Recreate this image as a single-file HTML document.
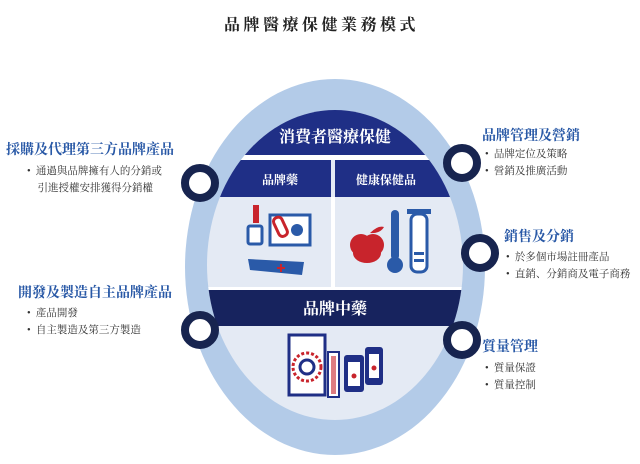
<!DOCTYPE html>
<html><head><meta charset="utf-8"><style>
body{margin:0;background:#fff;width:640px;height:464px;overflow:hidden;position:relative;font-family:"Liberation Serif","Noto Serif CJK SC","Noto Sans CJK TC",serif}
.t{position:absolute;white-space:nowrap}
.h{color:#2858a6;font-weight:bold;font-size:14px}
.b{color:#333;font-size:10.5px;line-height:17px}
</style></head><body>
<div class="t" style="left:224px;top:12px;font-size:16px;font-weight:bold;letter-spacing:3.5px;color:#222">品牌醫療保健業務模式</div>
<svg width="640" height="464" style="position:absolute;left:0;top:0">
<defs><clipPath id="c"><ellipse cx="335" cy="265" rx="128" ry="155"/></clipPath></defs>
<ellipse cx="335" cy="267" rx="150" ry="188" fill="#b3cbe8"/>
<ellipse cx="335" cy="265" rx="128" ry="155" fill="#e4eaf4"/>
<g clip-path="url(#c)">
<rect x="200" y="100" width="280" height="55" fill="#1f2f86"/>
<rect x="200" y="160" width="131" height="37" fill="#1f2f86"/>
<rect x="335" y="160" width="140" height="37" fill="#1f2f86"/>
<rect x="331" y="197" width="4" height="90" fill="#fff"/>
<rect x="200" y="155" width="280" height="5" fill="#fff"/>
<rect x="200" y="287" width="280" height="3" fill="#fff"/>
<rect x="200" y="290" width="280" height="36" fill="#17235e"/>
</g>
<text x="335" y="142" text-anchor="middle" fill="#fff" font-size="16" font-weight="bold" font-family="Liberation Serif,Noto Serif CJK SC,serif">消費者醫療保健</text>
<text x="280" y="184" text-anchor="middle" fill="#fff" font-size="12" font-weight="bold" font-family="Liberation Serif,Noto Serif CJK SC,serif">品牌藥</text>
<text x="386" y="184" text-anchor="middle" fill="#fff" font-size="12" font-weight="bold" font-family="Liberation Serif,Noto Serif CJK SC,serif">健康保健品</text>
<text x="335" y="314" text-anchor="middle" fill="#fff" font-size="16" font-weight="bold" font-family="Liberation Serif,Noto Serif CJK SC,serif">品牌中藥</text>
<rect x="253" y="205" width="6" height="18" fill="#c8242c"/>
<rect x="248" y="226" width="14" height="18" rx="2" fill="#fff" stroke="#2a5aa8" stroke-width="3"/>
<rect x="270" y="215" width="40" height="30" fill="#fff" stroke="#2a5aa8" stroke-width="3"/>
<rect x="276" y="217" width="9" height="20" rx="4" fill="#fff" stroke="#c8242c" stroke-width="3" transform="rotate(-25 280 227)"/>
<circle cx="297" cy="230" r="6" fill="#2a5aa8"/>
<path d="M248 259 L304 262 L302 275 L250 270 Z" fill="#2a5aa8"/>
<path d="M281 264v8M277 268h8" stroke="#c8242c" stroke-width="2"/>
<circle cx="361" cy="245" r="11" fill="#c8242c"/><circle cx="373" cy="245" r="11" fill="#c8242c"/>
<ellipse cx="367" cy="253" rx="14" ry="10" fill="#c8242c"/>
<path d="M370 233 q8 -8 14 -6 q-4 7 -14 6" fill="#c8242c"/>
<rect x="391" y="210" width="8" height="50" rx="4" fill="#2a5aa8"/>
<circle cx="395" cy="265" r="8" fill="#2a5aa8"/>
<rect x="407" y="209" width="24" height="5" fill="#2a5aa8"/>
<rect x="411" y="214" width="16" height="58" rx="6" fill="#fff" stroke="#2a5aa8" stroke-width="3"/>
<rect x="414" y="252" width="10" height="3" fill="#2a5aa8"/><rect x="414" y="259" width="10" height="3" fill="#2a5aa8"/>
<rect x="289" y="335" width="36" height="60" fill="#fff" stroke="#1f2f86" stroke-width="3"/>
<circle cx="307" cy="367" r="14" fill="none" stroke="#c8242c" stroke-width="3" stroke-dasharray="3 2"/>
<circle cx="307" cy="367" r="7" fill="none" stroke="#1f2f86" stroke-width="3"/>
<rect x="328" y="352" width="11" height="45" fill="#fff" stroke="#1f2f86" stroke-width="2"/>
<rect x="331" y="356" width="5" height="38" fill="#c8242c" opacity=".6"/>
<rect x="344" y="355" width="20" height="37" rx="3" fill="#1f2f86"/>
<rect x="348" y="362" width="12" height="24" fill="#fff"/>
<rect x="365" y="347" width="18" height="38" rx="3" fill="#1f2f86"/>
<rect x="369" y="354" width="10" height="24" fill="#fff"/>
<circle cx="354" cy="376" r="2.5" fill="#c8242c"/><circle cx="374" cy="368" r="2.5" fill="#c8242c"/>
<g fill="#fff" stroke="#17244f" stroke-width="8">
<circle cx="200" cy="183" r="15"/>
<circle cx="200" cy="330" r="15"/>
<circle cx="462" cy="163" r="15"/>
<circle cx="480" cy="253" r="15"/>
<circle cx="462" cy="340" r="15"/>
</g>
</svg>
<div class="t h" style="left:6px;top:139px">採購及代理第三方品牌產品</div>
<div class="t b" style="left:27px;top:163px">•&nbsp; 通過與品牌擁有人的分銷或<br>&nbsp;&nbsp;&nbsp;&nbsp;引進授權安排獲得分銷權</div>
<div class="t h" style="left:18px;top:282px">開發及製造自主品牌產品</div>
<div class="t b" style="left:27px;top:305px">•&nbsp; 產品開發<br>•&nbsp; 自主製造及第三方製造</div>
<div class="t h" style="left:482px;top:125px">品牌管理及營銷</div>
<div class="t b" style="left:485px;top:146px">•&nbsp; 品牌定位及策略<br>•&nbsp; 營銷及推廣活動</div>
<div class="t h" style="left:504px;top:226px">銷售及分銷</div>
<div class="t b" style="left:506px;top:249px">•&nbsp; 於多個市場註冊產品<br>•&nbsp; 直銷、分銷商及電子商務</div>
<div class="t h" style="left:482px;top:336px">質量管理</div>
<div class="t b" style="left:485px;top:360px">•&nbsp; 質量保證<br>•&nbsp; 質量控制</div>
</body></html>
